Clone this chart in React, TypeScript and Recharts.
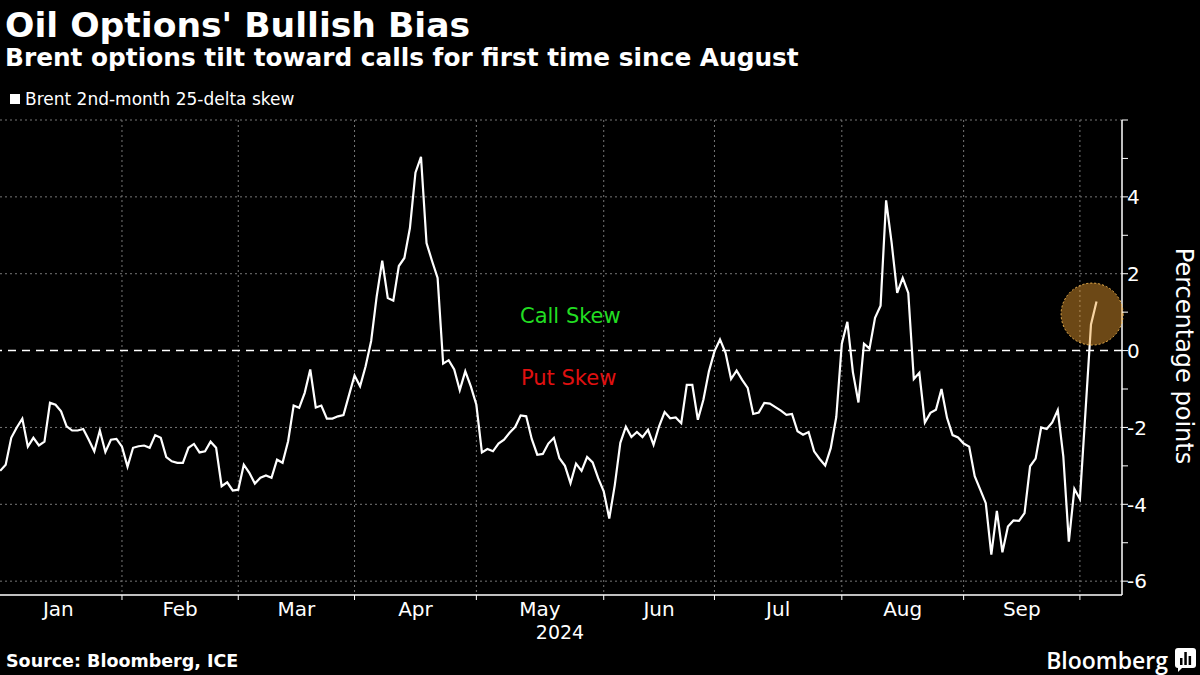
import { LineChart, Line, XAxis, YAxis, CartesianGrid, ReferenceLine, ReferenceDot } from 'recharts';

// Brent 2nd-month 25-delta skew, one value per weekday starting Jan 2, 2024
const skew = [
  -3.13, -2.97, -2.27, -2.0, -1.77, -2.5, -2.27, -2.47, -2.37, -1.36,
  -1.41, -1.58, -1.97, -2.08, -2.08, -2.04, -2.32, -2.62, -2.08, -2.64,
  -2.32, -2.3, -2.5, -3.02, -2.53, -2.49, -2.47, -2.53, -2.2, -2.27,
  -2.77, -2.88, -2.92, -2.92, -2.53, -2.43, -2.65, -2.62, -2.37, -2.53,
  -3.53, -3.43, -3.64, -3.62, -2.97, -3.18, -3.46, -3.31, -3.25, -3.31,
  -2.84, -2.92, -2.36, -1.43, -1.49, -1.1, -0.49, -1.48, -1.43, -1.77,
  -1.77, -1.71, -1.68, -1.16, -0.65, -0.93, -0.41, 0.25, 1.41, 2.34,
  1.37, 1.3, 2.2, 2.41, 3.19, 4.63, 5.04, 2.8, 2.33, 1.89,
  -0.34, -0.25, -0.49, -1.03, -0.54, -0.93, -1.41, -2.65, -2.56, -2.62,
  -2.42, -2.32, -2.14, -1.99, -1.69, -1.71, -2.3, -2.71, -2.69, -2.42,
  -2.27, -2.8, -3.0, -3.45, -2.94, -3.13, -2.77, -2.91, -3.32, -3.66,
  -4.37, -3.5, -2.4, -1.98, -2.25, -2.12, -2.25, -2.06, -2.45, -1.97,
  -1.6, -1.76, -1.74, -1.89, -0.89, -0.89, -1.8, -1.28, -0.54, -0.02,
  0.29, -0.06, -0.74, -0.52, -0.76, -0.97, -1.65, -1.61, -1.36, -1.38,
  -1.47, -1.56, -1.67, -1.65, -2.1, -2.19, -2.12, -2.62, -2.82, -2.99,
  -2.54, -1.73, 0.18, 0.75, -0.56, -1.35, 0.18, 0.05, 0.85, 1.17,
  3.91, 2.8, 1.5, 1.89, 1.5, -0.74, -0.58, -1.87, -1.62, -1.54,
  -1.0, -1.75, -2.2, -2.26, -2.42, -2.5, -3.27, -3.62, -3.97, -5.31,
  -4.17, -5.25, -4.58, -4.42, -4.43, -4.23, -3.01, -2.81, -2.0, -2.04,
  -1.87, -1.55, -2.75, -4.97, -3.6, -3.86, -1.6, 0.68, 1.28,
];

// weekday index (Jan 1 = 0) of the first value
const FIRST_DAY = 1;
// weekday index where each month begins (Feb .. Oct)
const monthStarts = [23, 44, 65, 87, 110, 130, 153, 175, 196];
const monthMids = [11.5, 33.5, 54.5, 76, 98.5, 120, 141.5, 164, 185.5];
const monthLabels = ['Jan', 'Feb', 'Mar', 'Apr', 'May', 'Jun', 'Jul', 'Aug', 'Sep'];
const yTicks = [-6, -5, -4, -3, -2, -1, 0, 1, 2, 3, 4, 5, 6];
const yLabeled = [-6, -4, -2, 0, 2, 4];
const yGrid = [-6, -4, -2, 2, 4, 6];

const data = skew.map((v, i) => ({ day: FIRST_DAY + i, skew: v }));

const FONT = '"DejaVu Sans", sans-serif';

function MonthTick(props: any) {
  const { x, y, payload } = props;
  const v = payload.value;
  if (monthStarts.includes(v)) {
    return <line x1={x} x2={x} y1={y} y2={y + 5} stroke="#fff" strokeWidth={1} />;
  }
  const mi = monthMids.indexOf(v);
  return (
    <text x={x} y={y + 21} fill="#fff" fontSize={20} textAnchor="middle" fontFamily={FONT}>
      {monthLabels[mi]}
    </text>
  );
}

function ValueTick(props: any) {
  const { x, y, payload } = props;
  const v = payload.value;
  const labeled = yLabeled.includes(v);
  return (
    <g>
      <line x1={x} x2={x + 6} y1={y} y2={y} stroke="#fff" strokeWidth={1} />
      {labeled && (
        <text x={x + 5} y={y} dy="0.36em" fill="#fff" fontSize={20} textAnchor="start" fontFamily={FONT}>
          {v < 0 ? `-${Math.abs(v)}` : v}
        </text>
      )}
    </g>
  );
}

export default function App() {
  return (
    <div style={{ position: 'absolute', left: 0, top: 0, width: 1200, height: 675, background: '#000', overflow: 'hidden', fontFamily: FONT, color: '#fff' }}>
      <div style={{ position: 'absolute', left: 5, top: 5, fontSize: 34.6, fontWeight: 'bold', whiteSpace: 'nowrap', lineHeight: 1.16 }}>
        Oil Options' Bullish Bias
      </div>
      <div style={{ position: 'absolute', left: 5, top: 44, fontSize: 24.8, fontWeight: 'bold', whiteSpace: 'nowrap', lineHeight: 1.16 }}>
        Brent options tilt toward calls for first time since August
      </div>
      <div style={{ position: 'absolute', left: 10, top: 89, fontSize: 17, whiteSpace: 'nowrap', display: 'flex', alignItems: 'center' }}>
        <span style={{ display: 'inline-block', width: 10, height: 10, background: '#fff', marginRight: 5 }} />
        Brent 2nd-month 25-delta skew
      </div>

      <div style={{ position: 'absolute', left: 0, top: 0 }}>
        <LineChart width={1200} height={650} data={data} margin={{ top: 120, right: 0, bottom: 0, left: 0 }}>
          <CartesianGrid
            stroke="#777"
            strokeDasharray="2 3"
            horizontalValues={yGrid}
            verticalValues={monthStarts}
          />
          <XAxis
            dataKey="day"
            type="number"
            domain={[0.97, 203.6]}
            ticks={[...monthMids, ...monthStarts].sort((a, b) => a - b)}
            interval={0}
            tick={<MonthTick />}
            tickLine={false}
            tickSize={0}
            tickMargin={0}
            axisLine={{ stroke: '#fff', strokeWidth: 1.5 }}
            height={55}
            allowDataOverflow
          />
          <YAxis
            orientation="right"
            type="number"
            domain={[-6.36, 6]}
            ticks={yTicks}
            interval={0}
            tick={<ValueTick />}
            tickLine={false}
            tickSize={0}
            tickMargin={0}
            axisLine={{ stroke: '#fff', strokeWidth: 1.5 }}
            width={78}
            allowDataOverflow
          />
          <ReferenceLine y={0} stroke="#fff" strokeWidth={1.5} strokeDasharray="8 6" />
          <Line
            type="linear"
            dataKey="skew"
            stroke="#fff"
            strokeWidth={2.2}
            dot={false}
            isAnimationActive={false}
          />
          <ReferenceDot
            x={198.2}
            y={0.95}
            r={31}
            fill="#f0a030"
            fillOpacity={0.45}
            stroke="#f5b850"
            strokeWidth={1}
            strokeDasharray="2 2"
          />
        </LineChart>
      </div>

      <div style={{ position: 'absolute', left: 520, top: 304, fontSize: 21, color: '#22dd22', whiteSpace: 'nowrap' }}>
        Call Skew
      </div>
      <div style={{ position: 'absolute', left: 521, top: 366, fontSize: 21, color: '#e01010', whiteSpace: 'nowrap' }}>
        Put Skew
      </div>

      <div style={{ position: 'absolute', left: 560, top: 621, transform: 'translateX(-50%)', fontSize: 19 }}>
        2024
      </div>

      <div
        style={{
          position: 'absolute',
          left: 1184,
          top: 356,
          transform: 'translate(-50%, -50%) rotate(90deg)',
          fontSize: 24,
          whiteSpace: 'nowrap',
        }}
      >
        Percentage points
      </div>

      <div style={{ position: 'absolute', left: 6, top: 651, fontSize: 17.5, fontWeight: 'bold', whiteSpace: 'nowrap' }}>
        Source: Bloomberg, ICE
      </div>
      <div style={{ position: 'absolute', right: 32, top: 644, fontSize: 23, fontWeight: 600, fontFamily: '"Open Sans", sans-serif', whiteSpace: 'nowrap' }}>
        Bloomberg
      </div>
      <svg style={{ position: 'absolute', left: 1175, top: 648 }} width={21} height={24}>
        <rect x={0} y={0} width={21} height={20} rx={3} fill="#fff" />
        <polygon points="3,19 8,19 3,24" fill="#fff" />
        <rect x={5} y={10} width={2.5} height={7} fill="#000" />
        <rect x={9.3} y={4} width={2.5} height={13} fill="#000" />
        <rect x={13.6} y={8} width={2.5} height={9} fill="#000" />
      </svg>
    </div>
  );
}
